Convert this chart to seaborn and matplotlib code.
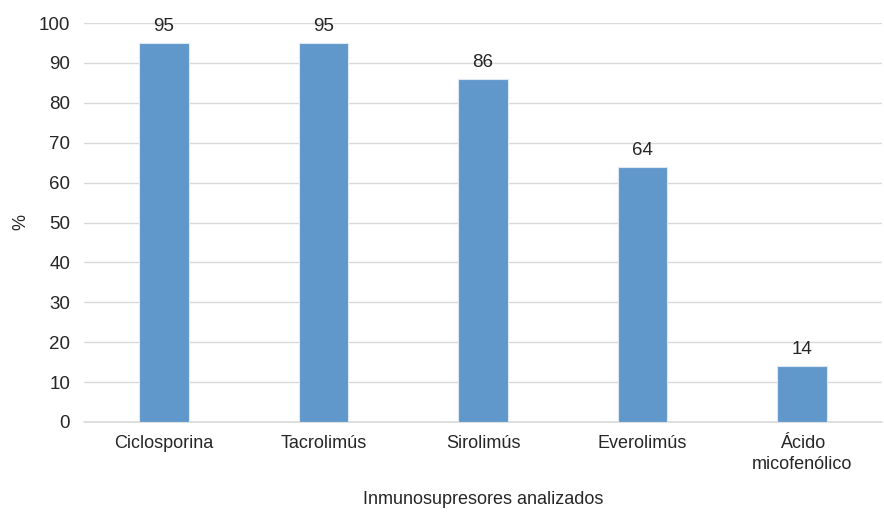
import matplotlib
matplotlib.use("Agg")
import matplotlib.pyplot as plt
import seaborn as sns
import pandas as pd

categories = ["Ciclosporina", "Tacrolimús", "Sirolimús", "Everolimús", "Ácido\nmicofenólico"]
values = [95, 95, 86, 64, 14]
yticks = [0, 10, 20, 30, 40, 50, 60, 70, 80, 90, 100]

sns.set_theme(style="white")
plt.rcParams["font.family"] = ["Liberation Sans", "DejaVu Sans"]

df = pd.DataFrame({"farmaco": categories, "pct": values})

fig = plt.figure(figsize=(8.84, 5.12), dpi=100)
ax = fig.add_axes([84 / 884, 1 - 422 / 512, 798 / 884, 399 / 512])

sns.barplot(data=df, x="farmaco", y="pct", color="#6198CB", saturation=1,
            width=0.31, edgecolor="#dce8f4", linewidth=0.8, ax=ax, zorder=3)

ax.set_ylim(0, 100)
ax.set_yticks(yticks)
ax.set_xlim(-0.5, len(categories) - 0.5)
ax.grid(axis="y", color="#d9d9d9", linewidth=1.0, zorder=0)
ax.axhline(0, color="#d9d9d9", linewidth=1.2, zorder=1, clip_on=False)
for s in ax.spines.values():
    s.set_visible(False)
ax.tick_params(axis="both", length=0, colors="#262626")
ax.tick_params(axis="y", pad=10, labelsize=13.5)
ax.tick_params(axis="x", pad=9, labelsize=13)
for lbl in ax.get_xticklabels():
    lbl.set_linespacing(1.35)

for i, v in enumerate(values):
    ax.text(i, v + 2, f"{v}", ha="center", va="bottom", fontsize=13.5, color="#262626")

ax.set_xlabel("")
ax.set_ylabel("")
fig.text(483 / 884, 1 - 500 / 512, "Inmunosupresores analizados",
         ha="center", va="center", fontsize=13, color="#262626")
fig.text(21 / 884, 1 - 222 / 512, "%", rotation=90,
         ha="center", va="center", fontsize=13, color="#262626")

fig.savefig("out.png", dpi=100)
